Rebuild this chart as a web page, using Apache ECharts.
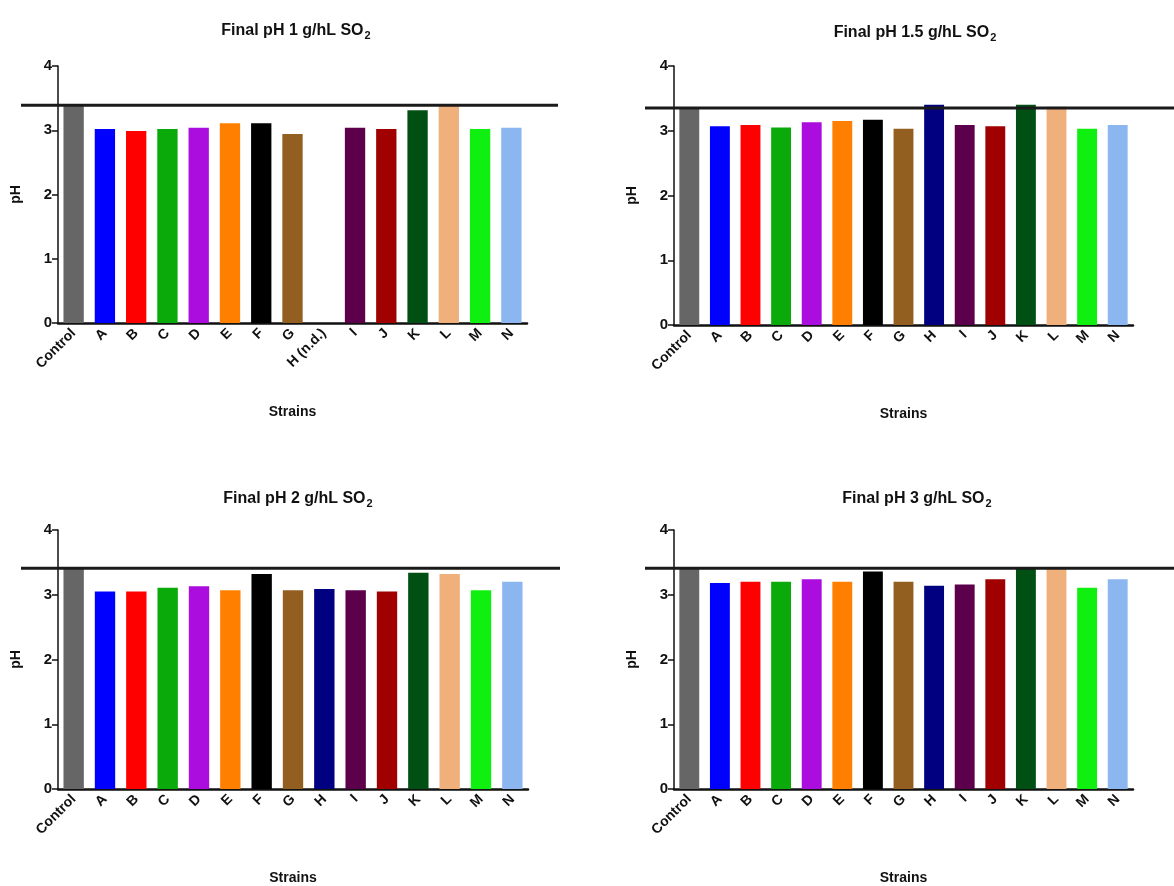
<!DOCTYPE html>
<html><head><meta charset="utf-8">
<script src="https://cdn.jsdelivr.net/npm/echarts@6/dist/echarts.min.js"></script>
<style>html,body{margin:0;padding:0;background:#fff}#c{width:1174px;height:886px}</style>
</head><body><div id="c"></div>
<script>
const titles = ['Final pH 1 g/hL SO', 'Final pH 1.5 g/hL SO', 'Final pH 2 g/hL SO', 'Final pH 3 g/hL SO'];
const cats1 = ['Control','A','B','C','D','E','F','G','H (n.d.)','I','J','K','L','M','N'];
const cats = ['Control','A','B','C','D','E','F','G','H','I','J','K','L','M','N'];
const ph1 = [3.39, 3.02, 2.99, 3.02, 3.04, 3.11, 3.11, 2.94, null, 3.04, 3.02, 3.31, 3.38, 3.02, 3.04];
const ph15 = [3.35, 3.07, 3.09, 3.05, 3.13, 3.15, 3.17, 3.03, 3.40, 3.09, 3.07, 3.40, 3.37, 3.03, 3.09];
const ph2 = [3.41, 3.05, 3.05, 3.11, 3.13, 3.07, 3.32, 3.07, 3.09, 3.07, 3.05, 3.34, 3.32, 3.07, 3.20];
const ph3 = [3.41, 3.18, 3.20, 3.20, 3.24, 3.20, 3.36, 3.20, 3.14, 3.16, 3.24, 3.42, 3.40, 3.11, 3.24];
const controlLine = [3.39, 3.35, 3.41, 3.41];
const yTicks = [0, 1, 2, 3, 4];
const palette = ['#666666','#0000ff','#ff0000','#0aaa0a','#aa0ddd','#ff8000','#000000','#935f20','#000080','#5c004c','#a00000','#005014','#efb07c','#10f010','#8cb6f0'];

const panels = [
  {cats: cats1, data: ph1, grid: {left: 58, top: 66, width: 469, height: 257}, line: {left: 21, width: 537}, title: {x: 291, y: 16}},
  {cats: cats,  data: ph15, grid: {left: 674, top: 66, width: 459, height: 259}, line: {left: 645, width: 529}, title: {x: 910, y: 18}},
  {cats: cats,  data: ph2, grid: {left: 58, top: 530, width: 470, height: 259}, line: {left: 21, width: 539}, title: {x: 293, y: 484}},
  {cats: cats,  data: ph3, grid: {left: 674, top: 530, width: 459, height: 259}, line: {left: 645, width: 529}, title: {x: 912, y: 484}}
];

const FONT = 'Liberation Sans, Arial, sans-serif';
const grid = [], xAxis = [], yAxis = [], series = [], title = [];
panels.forEach((p, i) => {
  grid.push(Object.assign({containLabel: false}, p.grid));
  title.push({
    text: '{a|' + titles[i] + '}{s|2}',
    left: p.title.x, top: p.title.y, textAlign: 'center',
    textStyle: {rich: {
      a: {fontFamily: FONT, fontWeight: 'bold', fontSize: 16, color: '#111'},
      s: {fontFamily: FONT, fontWeight: 'bold', fontSize: 11, color: '#111', padding: [9, 0, 0, 1]}
    }}
  });
  xAxis.push({
    type: 'category', gridIndex: i, data: p.cats, boundaryGap: true,
    name: 'Strains', nameLocation: 'middle', nameGap: 82,
    nameTextStyle: {fontFamily: FONT, fontWeight: 'bold', fontSize: 14, color: '#111'},
    axisLine: {lineStyle: {color: '#111', width: 2.5}},
    axisTick: {alignWithLabel: true, length: 6, lineStyle: {color: '#111', width: 2}},
    axisLabel: {rotate: 45, fontFamily: FONT, fontWeight: 'bold', fontSize: 14, color: '#111', margin: 8, interval: 0}
  });
  yAxis.push({
    type: 'value', gridIndex: i, min: yTicks[0], max: yTicks[yTicks.length - 1], interval: 1,
    name: 'pH', nameLocation: 'middle', nameGap: 35, nameRotate: 90,
    nameTextStyle: {fontFamily: FONT, fontWeight: 'bold', fontSize: 14, color: '#111'},
    splitLine: {show: false},
    axisLine: {show: true, lineStyle: {color: '#111', width: 1.5}},
    axisTick: {show: true, length: 6, lineStyle: {color: '#111', width: 1.5}},
    axisLabel: {fontFamily: FONT, fontWeight: 'bold', fontSize: 15, color: '#111', margin: 6}
  });
  series.push({
    type: 'bar', xAxisIndex: i, yAxisIndex: i, barWidth: '65%', animation: false,
    data: p.data.map((v, k) => ({value: v, itemStyle: {color: palette[k]}}))
  });
});
panels.forEach((p, i) => {
  const gi = grid.length;
  grid.push({left: p.line.left, width: p.line.width, top: p.grid.top, height: p.grid.height});
  xAxis.push({type: 'value', gridIndex: gi, min: 0, max: 1, show: false});
  yAxis.push({type: 'value', gridIndex: gi, min: 0, max: 4, show: false});
  series.push({
    type: 'line', xAxisIndex: gi, yAxisIndex: gi, data: [[0, controlLine[i]], [1, controlLine[i]]],
    symbol: 'none', lineStyle: {color: '#1a1a1a', width: 3}, z: 5, animation: false, silent: true
  });
});

const chart = echarts.init(document.getElementById('c'), null, {renderer: 'canvas'});
chart.setOption({
  backgroundColor: '#ffffff', animation: false,
  title, grid, xAxis, yAxis, series
});
</script></body></html>
